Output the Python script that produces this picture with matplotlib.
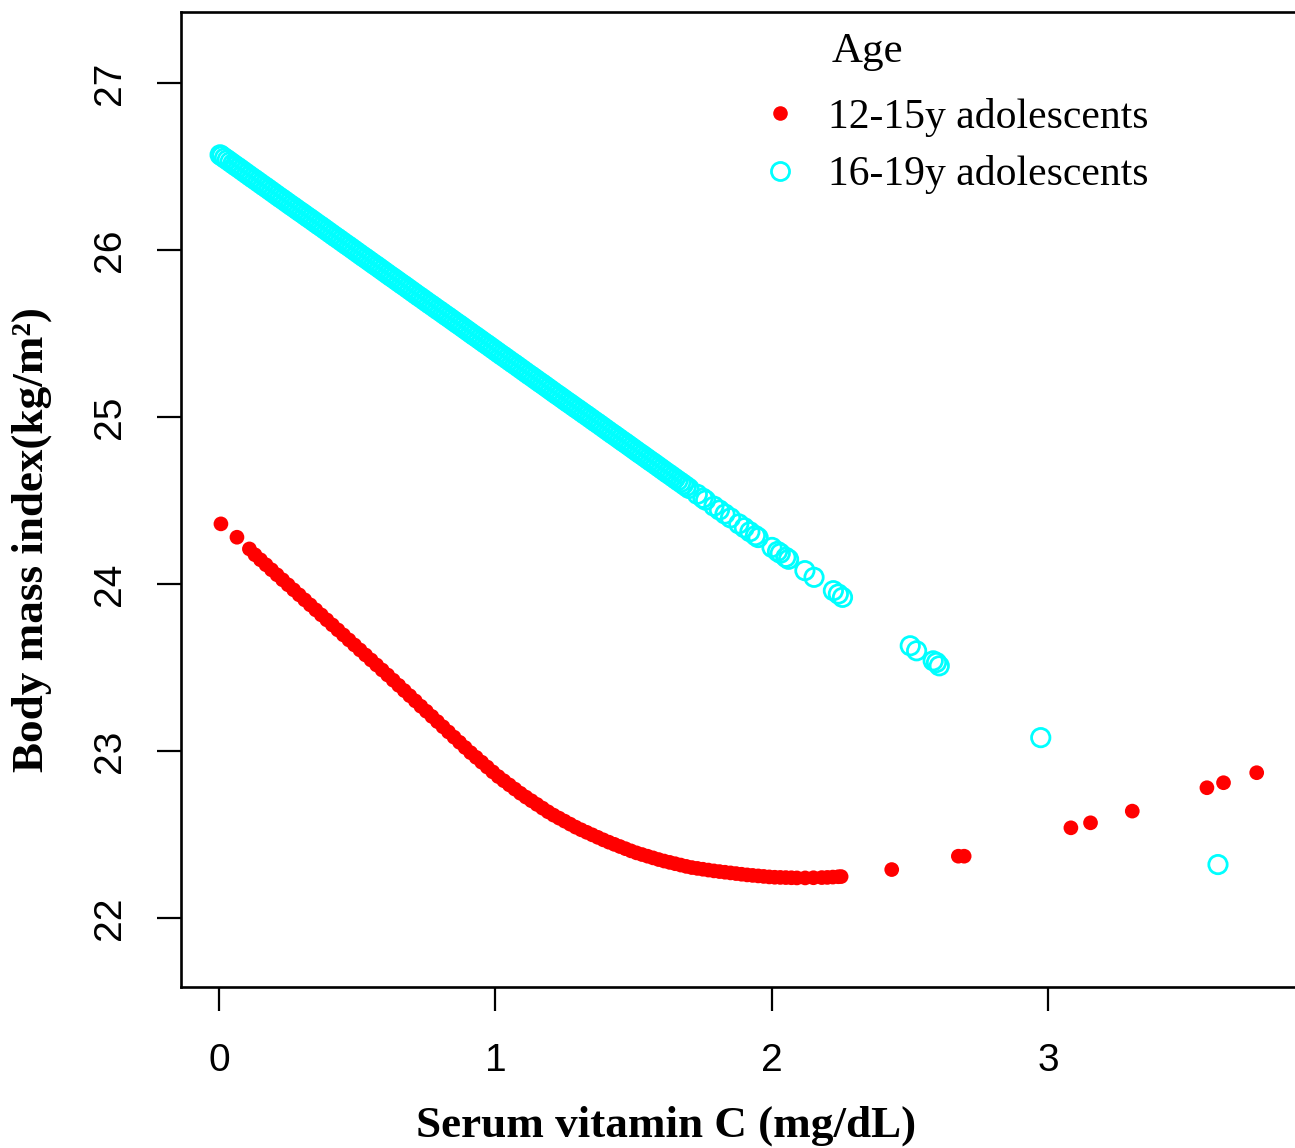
import matplotlib
matplotlib.use("Agg")
import matplotlib.pyplot as plt
from matplotlib.lines import Line2D

# ---------------- data ----------------
# 12-15y adolescents (filled red dots)
red_x = [0.007, 0.065, 0.11,
         0.13, 0.15, 0.17, 0.19, 0.21, 0.23, 0.25, 0.27, 0.29, 0.31, 0.33, 0.35,
         0.37, 0.39, 0.41, 0.43, 0.45, 0.47, 0.49, 0.51, 0.53, 0.55, 0.57, 0.59,
         0.61, 0.63, 0.65, 0.67, 0.69, 0.71, 0.73, 0.75, 0.77, 0.79,
         0.81, 0.83, 0.85, 0.87, 0.89, 0.91, 0.93, 0.95, 0.97, 0.99,
         1.01, 1.03, 1.05, 1.07, 1.09, 1.11, 1.13, 1.15, 1.17, 1.19,
         1.21, 1.23, 1.25, 1.27, 1.29, 1.31, 1.33, 1.35, 1.37, 1.39,
         1.41, 1.43, 1.45, 1.47, 1.49, 1.51, 1.53, 1.55, 1.57, 1.59,
         1.61, 1.63, 1.65, 1.67, 1.69, 1.71, 1.73, 1.75, 1.77, 1.79,
         1.81, 1.83, 1.85, 1.87, 1.89, 1.91, 1.93, 1.95, 1.97, 1.99,
         2.01, 2.03, 2.05, 2.07, 2.09, 2.12, 2.15, 2.18, 2.20, 2.22, 2.24, 2.25,
         2.433, 2.674, 2.695, 3.081, 3.152, 3.303, 3.573, 3.633, 3.753]
red_y = [24.36, 24.28, 24.21,
         24.175, 24.145, 24.115, 24.085, 24.055, 24.025, 23.995, 23.965, 23.935, 23.905, 23.875, 23.845,
         23.815, 23.785, 23.755, 23.725, 23.695, 23.665, 23.635, 23.605, 23.575, 23.545, 23.515, 23.485,
         23.455, 23.424, 23.393, 23.362, 23.331, 23.300, 23.268, 23.238, 23.207, 23.176,
         23.145, 23.114, 23.083, 23.052, 23.021, 22.990, 22.962, 22.933, 22.904, 22.875,
         22.847, 22.822, 22.797, 22.772, 22.747, 22.724, 22.702, 22.680, 22.658, 22.636,
         22.616, 22.598, 22.580, 22.562, 22.544, 22.528, 22.513, 22.498, 22.483, 22.468,
         22.454, 22.441, 22.428, 22.415, 22.402, 22.390, 22.380, 22.370, 22.360, 22.350,
         22.341, 22.333, 22.325, 22.317, 22.309, 22.302, 22.297, 22.292, 22.287, 22.282,
         22.278, 22.274, 22.270, 22.266, 22.262, 22.258, 22.255, 22.252, 22.249, 22.246,
         22.244, 22.243, 22.242, 22.241, 22.240, 22.240, 22.241, 22.242, 22.243, 22.245, 22.247, 22.248,
         22.29, 22.37, 22.37, 22.54, 22.57, 22.64, 22.78, 22.81, 22.87]

# 16-19y adolescents (open cyan circles)
cyan_x = [0.004, 0.01, 0.02, 0.03, 0.04, 0.05, 0.06, 0.07, 0.08, 0.09,
          0.10, 0.11, 0.12, 0.13, 0.14, 0.15, 0.16, 0.17, 0.18, 0.19,
          0.20, 0.21, 0.22, 0.23, 0.24, 0.25, 0.26, 0.27, 0.28, 0.29,
          0.30, 0.31, 0.32, 0.33, 0.34, 0.35, 0.36, 0.37, 0.38, 0.39,
          0.40, 0.41, 0.42, 0.43, 0.44, 0.45, 0.46, 0.47, 0.48, 0.49,
          0.50, 0.51, 0.52, 0.53, 0.54, 0.55, 0.56, 0.57, 0.58, 0.59,
          0.60, 0.61, 0.62, 0.63, 0.64, 0.65, 0.66, 0.67, 0.68, 0.69,
          0.70, 0.71, 0.72, 0.73, 0.74, 0.75, 0.76, 0.77, 0.78, 0.79,
          0.80, 0.81, 0.82, 0.83, 0.84, 0.85, 0.86, 0.87, 0.88, 0.89,
          0.90, 0.91, 0.92, 0.93, 0.94, 0.95, 0.96, 0.97, 0.98, 0.99,
          1.00, 1.01, 1.02, 1.03, 1.04, 1.05, 1.06, 1.07, 1.08, 1.09,
          1.10, 1.11, 1.12, 1.13, 1.14, 1.15, 1.16, 1.17, 1.18, 1.19,
          1.20, 1.21, 1.22, 1.23, 1.24, 1.25, 1.26, 1.27, 1.28, 1.29,
          1.30, 1.31, 1.32, 1.33, 1.34, 1.35, 1.36, 1.37, 1.38, 1.39,
          1.40, 1.41, 1.42, 1.43, 1.44, 1.45, 1.46, 1.47, 1.48, 1.49,
          1.50, 1.51, 1.52, 1.53, 1.54, 1.55, 1.56, 1.57, 1.58, 1.59,
          1.60, 1.61, 1.62, 1.63, 1.64, 1.65, 1.66, 1.67, 1.68, 1.69,
          1.70, 1.73, 1.75, 1.76, 1.79, 1.81, 1.83, 1.85, 1.88, 1.90,
          1.92, 1.94, 1.95, 2.00, 2.02, 2.03, 2.05, 2.06, 2.119, 2.152,
          2.222, 2.24, 2.255, 2.50, 2.523, 2.583, 2.595, 2.605, 2.972, 3.613]
cyan_y = [26.570, 26.563, 26.551, 26.540, 26.528, 26.516, 26.504, 26.493, 26.481, 26.469,
          26.457, 26.445, 26.433, 26.422, 26.410, 26.398, 26.386, 26.375, 26.363, 26.351,
          26.339, 26.327, 26.315, 26.304, 26.292, 26.280, 26.268, 26.257, 26.245, 26.233,
          26.222, 26.210, 26.198, 26.187, 26.175, 26.163, 26.151, 26.140, 26.128, 26.116,
          26.104, 26.092, 26.080, 26.069, 26.057, 26.045, 26.033, 26.022, 26.010, 25.998,
          25.986, 25.974, 25.962, 25.951, 25.939, 25.927, 25.915, 25.904, 25.892, 25.880,
          25.868, 25.856, 25.844, 25.833, 25.821, 25.809, 25.797, 25.786, 25.774, 25.762,
          25.750, 25.738, 25.726, 25.715, 25.703, 25.691, 25.679, 25.668, 25.656, 25.644,
          25.633, 25.621, 25.609, 25.598, 25.586, 25.574, 25.562, 25.551, 25.539, 25.527,
          25.515, 25.503, 25.491, 25.480, 25.468, 25.456, 25.444, 25.433, 25.421, 25.409,
          25.397, 25.385, 25.373, 25.362, 25.350, 25.338, 25.326, 25.315, 25.303, 25.291,
          25.279, 25.267, 25.255, 25.244, 25.232, 25.220, 25.208, 25.197, 25.185, 25.173,
          25.161, 25.149, 25.137, 25.126, 25.114, 25.102, 25.090, 25.079, 25.067, 25.055,
          25.044, 25.032, 25.020, 25.009, 24.997, 24.985, 24.973, 24.962, 24.950, 24.938,
          24.926, 24.914, 24.902, 24.891, 24.879, 24.867, 24.855, 24.844, 24.832, 24.820,
          24.808, 24.796, 24.784, 24.773, 24.761, 24.749, 24.737, 24.726, 24.714, 24.702,
          24.690, 24.678, 24.666, 24.655, 24.643, 24.631, 24.619, 24.608, 24.596, 24.584,
          24.572, 24.537, 24.514, 24.502, 24.466, 24.443, 24.419, 24.396, 24.360, 24.337,
          24.313, 24.290, 24.278, 24.219, 24.195, 24.184, 24.160, 24.148, 24.080, 24.040,
          23.960, 23.940, 23.920, 23.630, 23.600, 23.540, 23.530, 23.510, 23.080, 22.320]

x_ticks = [0, 1, 2, 3]
y_ticks = [22, 23, 24, 25, 26, 27]
series_labels = ["12-15y adolescents", "16-19y adolescents"]
legend_title = "Age"
x_label = "Serum vitamin C (mg/dL)"
y_label = "Body mass index(kg/m\u00b2)"

# ---------------- figure ----------------
W, H = 1295, 1148
fig = plt.figure(figsize=(W / 100, H / 100), dpi=100)
ax = fig.add_axes([181 / W, (H - 987) / H, (1300 - 181) / W, (987 - 12) / H])

ax.scatter(red_x, red_y, s=112, color="#FF0000", edgecolors="none", zorder=3)
ax.scatter(cyan_x, cyan_y, s=175, facecolors="none", edgecolors="#00FFFF",
           linewidths=2.0, zorder=2)

ax.set_xlim(-0.1374, 3.9096)
ax.set_ylim(21.5868, 27.4251)

for side in ["left", "bottom", "top"]:
    ax.spines[side].set_linewidth(1.9)
    ax.spines[side].set_color("black")
ax.spines["right"].set_visible(False)

sans = "Liberation Sans"
serif = "Liberation Serif"

ax.set_xticks(x_ticks)
ax.set_yticks(y_ticks)
ax.set_xticklabels([str(v) for v in x_ticks], fontfamily=sans, fontsize=28)
ax.set_yticklabels([str(v) for v in y_ticks], fontfamily=sans, fontsize=28,
                   rotation=90, va="center")
ax.tick_params(axis="both", direction="out", length=17, width=1.6, color="black")
ax.tick_params(axis="x", pad=23)
ax.tick_params(axis="y", pad=21)

fig.text(666 / W, 1 - 1126 / H, x_label, fontfamily=serif, fontweight="bold",
         fontsize=32.5, ha="center", va="center")
fig.text(32 / W, 1 - 540 / H, y_label, fontfamily=serif, fontweight="bold",
         fontsize=32.5, ha="center", va="center", rotation=90)

# legend
handles = [
    Line2D([], [], linestyle="none", marker="o", markersize=10.5,
           markerfacecolor="#FF0000", markeredgecolor="none"),
    Line2D([], [], linestyle="none", marker="o", markersize=13,
           markerfacecolor="none", markeredgecolor="#00FFFF", markeredgewidth=2.0),
]
leg = fig.legend(handles, series_labels, loc="upper left",
                 bbox_to_anchor=(759 / W, 1 - 98 / H), frameon=False,
                 prop={"family": serif, "size": 30}, handlelength=1.0,
                 handletextpad=0.65, labelspacing=0.44, borderaxespad=0,
                 borderpad=0)
fig.text(832 / W, 1 - 52 / H, legend_title, fontfamily=serif, fontsize=31,
         ha="left", va="center")

fig.savefig("out.png", dpi=100)
